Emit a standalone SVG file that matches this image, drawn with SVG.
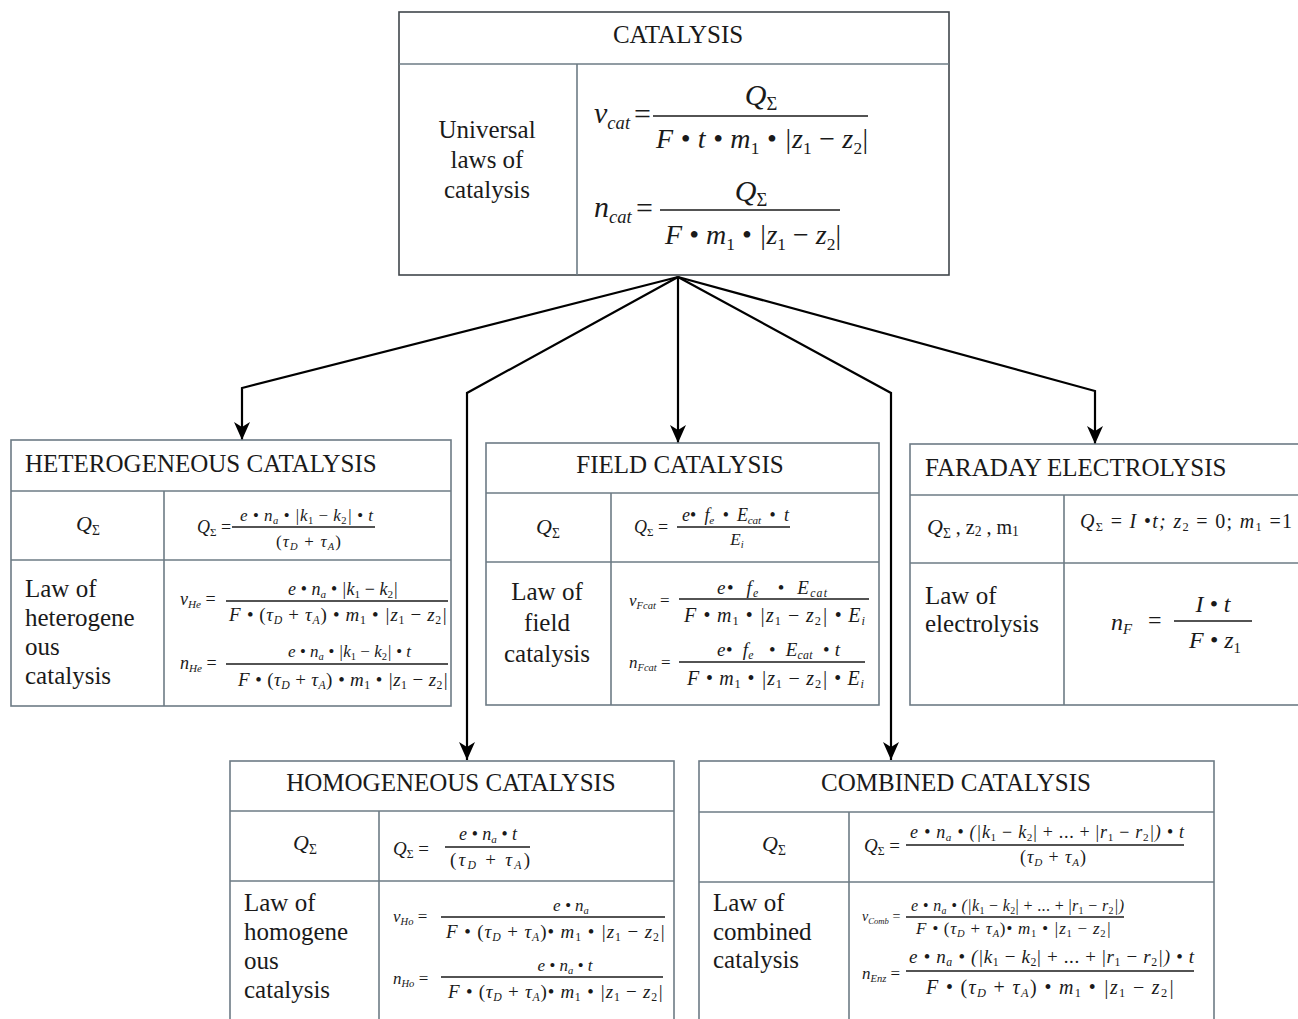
<svg xmlns="http://www.w3.org/2000/svg" width="1298" height="1019" viewBox="0 0 1298 1019">
<defs>
<style>
.box{fill:#fff;stroke:#6d7b85;stroke-width:1.6}
.boxd{fill:#fff;stroke:#40464b;stroke-width:1.6}
.sep{stroke:#6d7b85;stroke-width:1.6}
.tx{font-family:"Liberation Serif","Times New Roman",serif;font-size:25px;fill:#1a1a1a}
.mi{font-family:"Liberation Serif","Times New Roman",serif;font-style:italic;fill:#1a1a1a}
.up{font-style:normal}
.s{font-size:0.62em}
.fl{stroke:#1a1a1a;stroke-width:1.3}
.arr{fill:none;stroke:#000;stroke-width:2.2;marker-end:url(#ah)}
</style>
<marker id="ah" markerUnits="userSpaceOnUse" markerWidth="18" markerHeight="16" viewBox="0 0 18 16" refX="18" refY="8" orient="auto">
<path d="M0,0 L18,8 L0,16 L5,8 Z" fill="#000"/>
</marker>
</defs>
<rect width="1298" height="1019" fill="#fff"/>

<g id="connectors">
<path class="arr" d="M678,277 L242,388 L242,440"/>
<path class="arr" d="M678,277 L467,393 L467,760"/>
<path class="arr" d="M678,277 L678,443"/>
<path class="arr" d="M678,277 L891,393 L891,760"/>
<path class="arr" d="M678,277 L1095,391 L1095,444"/>
</g>

<g id="node-catalysis">
<rect class="boxd" x="399" y="12" width="550" height="263"/>
<line class="sep" x1="399" y1="64" x2="949" y2="64"/>
<line class="sep" x1="577" y1="64" x2="577" y2="275"/>
<text class="tx" x="678" y="43" text-anchor="middle">CATALYSIS</text>
<text class="tx" x="487" y="138" text-anchor="middle">Universal</text>
<text class="tx" x="487" y="168" text-anchor="middle">laws of</text>
<text class="tx" x="487" y="198" text-anchor="middle">catalysis</text>
<text class="mi" x="594" y="123" font-size="30">v<tspan class="s" dy="6">cat</tspan></text>
<text class="mi up" x="634" y="124" font-size="30">=</text>
<text class="mi" x="761" y="105" font-size="30" text-anchor="middle">Q<tspan class="s up" dy="5">Σ</tspan></text>
<line class="fl" x1="653" y1="116" x2="868" y2="116"/>
<text class="mi" x="656" y="148" font-size="28" textLength="212" lengthAdjust="spacing">F • t • m<tspan class="s up" dy="6">1</tspan><tspan dy="-6"> • |z</tspan><tspan class="s up" dy="6">1</tspan><tspan dy="-6" class="up"> − </tspan>z<tspan class="s up" dy="6">2</tspan><tspan dy="-6" class="up">|</tspan></text>
<text class="mi" x="594" y="217" font-size="30">n<tspan class="s" dy="6">cat</tspan></text>
<text class="mi up" x="636" y="218" font-size="30">=</text>
<text class="mi" x="751" y="201" font-size="30" text-anchor="middle">Q<tspan class="s up" dy="5">Σ</tspan></text>
<line class="fl" x1="660" y1="210" x2="840" y2="210"/>
<text class="mi" x="665" y="244" font-size="28" textLength="176" lengthAdjust="spacing">F • m<tspan class="s up" dy="6">1</tspan><tspan dy="-6"> • |z</tspan><tspan class="s up" dy="6">1</tspan><tspan dy="-6" class="up"> − </tspan>z<tspan class="s up" dy="6">2</tspan><tspan dy="-6" class="up">|</tspan></text>
</g>

<g id="node-heterogeneous">
<rect class="box" x="11" y="440" width="440" height="266"/>
<line class="sep" x1="11" y1="491" x2="451" y2="491"/>
<line class="sep" x1="11" y1="560" x2="451" y2="560"/>
<line class="sep" x1="164" y1="491" x2="164" y2="706"/>
<text class="tx" x="25" y="472">HETEROGENEOUS CATALYSIS</text>
<text class="mi" x="88" y="531" font-size="22" text-anchor="middle">Q<tspan class="s up" dy="4">Σ</tspan></text>
<text class="mi" x="197" y="533" font-size="18">Q<tspan class="s up" dy="3">Σ</tspan><tspan class="up" dy="-3"> =</tspan></text>
<text class="mi" x="240" y="521" font-size="17" textLength="133" lengthAdjust="spacing">e • n<tspan class="s" dy="3">a</tspan><tspan dy="-3"> • |k</tspan><tspan class="s up" dy="3">1</tspan><tspan dy="-3" class="up"> − </tspan>k<tspan class="s up" dy="3">2</tspan><tspan dy="-3">| • t</tspan></text>
<line class="fl" x1="232" y1="527" x2="375" y2="527"/>
<text class="mi" x="276" y="547" font-size="17" textLength="65" lengthAdjust="spacing"><tspan class="up">(</tspan>τ<tspan class="s" dy="3">D</tspan><tspan dy="-3" class="up"> + </tspan>τ<tspan class="s" dy="3">A</tspan><tspan dy="-3" class="up">)</tspan></text>
<text class="tx" x="25" y="597">Law of</text>
<text class="tx" x="25" y="626">heterogene</text>
<text class="tx" x="25" y="655">ous</text>
<text class="tx" x="25" y="684">catalysis</text>
<text class="mi" x="180" y="605" font-size="18">v<tspan class="s" dy="3">He</tspan><tspan class="up" dy="-3"> =</tspan></text>
<text class="mi" x="288" y="595" font-size="18" textLength="110" lengthAdjust="spacing">e • n<tspan class="s" dy="3">a</tspan><tspan dy="-3"> • |k</tspan><tspan class="s up" dy="3">1</tspan><tspan dy="-3" class="up"> − </tspan>k<tspan class="s up" dy="3">2</tspan><tspan dy="-3">|</tspan></text>
<line class="fl" x1="226" y1="601" x2="448" y2="601"/>
<text class="mi" x="229" y="621" font-size="19" textLength="218" lengthAdjust="spacing">F • <tspan class="up">(</tspan>τ<tspan class="s" dy="3">D</tspan><tspan dy="-3" class="up"> + </tspan>τ<tspan class="s" dy="3">A</tspan><tspan dy="-3" class="up">)</tspan> • m<tspan class="s up" dy="3">1</tspan><tspan dy="-3"> • |z</tspan><tspan class="s up" dy="3">1</tspan><tspan dy="-3" class="up"> − </tspan>z<tspan class="s up" dy="3">2</tspan><tspan dy="-3">|</tspan></text>
<text class="mi" x="180" y="669" font-size="18">n<tspan class="s" dy="3">He</tspan><tspan class="up" dy="-3"> =</tspan></text>
<text class="mi" x="288" y="657" font-size="17" textLength="123" lengthAdjust="spacing">e • n<tspan class="s" dy="3">a</tspan><tspan dy="-3"> • |k</tspan><tspan class="s up" dy="3">1</tspan><tspan dy="-3" class="up"> − </tspan>k<tspan class="s up" dy="3">2</tspan><tspan dy="-3">| • t</tspan></text>
<line class="fl" x1="226" y1="664" x2="448" y2="664"/>
<text class="mi" x="238" y="686" font-size="19" textLength="210" lengthAdjust="spacing">F • <tspan class="up">(</tspan>τ<tspan class="s" dy="3">D</tspan><tspan dy="-3" class="up"> + </tspan>τ<tspan class="s" dy="3">A</tspan><tspan dy="-3" class="up">)</tspan> • m<tspan class="s up" dy="3">1</tspan><tspan dy="-3"> • |z</tspan><tspan class="s up" dy="3">1</tspan><tspan dy="-3" class="up"> − </tspan>z<tspan class="s up" dy="3">2</tspan><tspan dy="-3">|</tspan></text>
</g>

<g id="node-field">
<rect class="box" x="486" y="443" width="393" height="262"/>
<line class="sep" x1="486" y1="493" x2="879" y2="493"/>
<line class="sep" x1="486" y1="562" x2="879" y2="562"/>
<line class="sep" x1="611" y1="493" x2="611" y2="705"/>
<text class="tx" x="680" y="473" text-anchor="middle">FIELD CATALYSIS</text>
<text class="mi" x="548" y="534" font-size="22" text-anchor="middle">Q<tspan class="s up" dy="4">Σ</tspan></text>
<text class="mi" x="634" y="533" font-size="18">Q<tspan class="s up" dy="3">Σ</tspan><tspan class="up" dy="-3"> =</tspan></text>
<text class="mi" x="682" y="521" font-size="18" textLength="107" lengthAdjust="spacing">e•&#160; f<tspan class="s" dy="3">e</tspan><tspan dy="-3"> &#160;•&#160; E</tspan><tspan class="s" dy="3">cat</tspan><tspan dy="-3"> &#160;•&#160; t</tspan></text>
<line class="fl" x1="677" y1="527" x2="790" y2="527"/>
<text class="mi" x="737" y="545" font-size="17" text-anchor="middle">E<tspan class="s" dy="3">i</tspan></text>
<text class="tx" x="547" y="600" text-anchor="middle">Law of</text>
<text class="tx" x="547" y="631" text-anchor="middle">field</text>
<text class="tx" x="547" y="662" text-anchor="middle">catalysis</text>
<text class="mi" x="629" y="606" font-size="17">v<tspan class="s" dy="3">Fcat</tspan><tspan class="up" dy="-3"> =</tspan></text>
<text class="mi" x="717" y="594" font-size="19" textLength="110" lengthAdjust="spacing">e•&#160; f<tspan class="s" dy="3">e</tspan><tspan dy="-3"> &#160;&#160;• &#160;E</tspan><tspan class="s" dy="3">cat</tspan></text>
<line class="fl" x1="679" y1="599" x2="869" y2="599"/>
<text class="mi" x="684" y="622" font-size="20" textLength="181" lengthAdjust="spacing">F • m<tspan class="s up" dy="3">1</tspan><tspan dy="-3"> • |z</tspan><tspan class="s up" dy="3">1</tspan><tspan dy="-3" class="up"> − </tspan>z<tspan class="s up" dy="3">2</tspan><tspan dy="-3">| • E</tspan><tspan class="s" dy="3">i</tspan></text>
<text class="mi" x="629" y="668" font-size="17">n<tspan class="s" dy="3">Fcat</tspan><tspan class="up" dy="-3"> =</tspan></text>
<text class="mi" x="717" y="656" font-size="19" textLength="123" lengthAdjust="spacing">e•&#160; f<tspan class="s" dy="3">e</tspan><tspan dy="-3"> &#160;&#160;• &#160;E</tspan><tspan class="s" dy="3">cat</tspan><tspan dy="-3"> &#160;• t</tspan></text>
<line class="fl" x1="679" y1="662" x2="865" y2="662"/>
<text class="mi" x="687" y="685" font-size="20" textLength="177" lengthAdjust="spacing">F • m<tspan class="s up" dy="3">1</tspan><tspan dy="-3"> • |z</tspan><tspan class="s up" dy="3">1</tspan><tspan dy="-3" class="up"> − </tspan>z<tspan class="s up" dy="3">2</tspan><tspan dy="-3">| • E</tspan><tspan class="s" dy="3">i</tspan></text>
</g>

<g id="node-faraday">
<rect class="box" x="910" y="444" width="400" height="261"/>
<line class="sep" x1="910" y1="495" x2="1298" y2="495"/>
<line class="sep" x1="910" y1="563" x2="1298" y2="563"/>
<line class="sep" x1="1064" y1="495" x2="1064" y2="705"/>
<text class="tx" x="925" y="476">FARADAY ELECTROLYSIS</text>
<text class="mi" x="927" y="534" font-size="22">Q<tspan class="s up" dy="4">Σ</tspan><tspan class="up" dy="-4" font-size="20"> , z</tspan><tspan class="s up" dy="2" font-size="13">2</tspan><tspan class="up" dy="-2" font-size="20"> , m</tspan><tspan class="s up" dy="2" font-size="13">1</tspan></text>
<text class="mi" x="1080" y="528" font-size="20" textLength="212" lengthAdjust="spacing">Q<tspan class="s up" dy="3">Σ</tspan><tspan class="up" dy="-3"> = </tspan>I •t; z<tspan class="s up" dy="3">2</tspan><tspan class="up" dy="-3"> = 0; </tspan>m<tspan class="s up" dy="3">1</tspan><tspan class="up" dy="-3"> =1</tspan></text>
<text class="tx" x="925" y="604">Law of</text>
<text class="tx" x="925" y="632">electrolysis</text>
<text class="mi" x="1111" y="630" font-size="24">n<tspan class="s" dy="4">F</tspan></text>
<text class="mi up" x="1148" y="628" font-size="24">=</text>
<text class="mi" x="1213" y="612" font-size="24" text-anchor="middle">I • t</text>
<line class="fl" x1="1174" y1="621" x2="1252" y2="621"/>
<text class="mi" x="1215" y="648" font-size="24" text-anchor="middle">F • z<tspan class="s up" dy="5">1</tspan></text>
</g>

<g id="node-homogeneous">
<rect class="box" x="230" y="761" width="444" height="270"/>
<line class="sep" x1="230" y1="811" x2="674" y2="811"/>
<line class="sep" x1="230" y1="881" x2="674" y2="881"/>
<line class="sep" x1="379" y1="811" x2="379" y2="1019"/>
<text class="tx" x="451" y="791" text-anchor="middle">HOMOGENEOUS CATALYSIS</text>
<text class="mi" x="305" y="850" font-size="22" text-anchor="middle">Q<tspan class="s up" dy="4">Σ</tspan></text>
<text class="mi" x="393" y="855" font-size="19">Q<tspan class="s up" dy="3">Σ</tspan><tspan class="up" dy="-3"> =</tspan></text>
<text class="mi" x="488" y="840" font-size="18" text-anchor="middle">e • n<tspan class="s" dy="3">a</tspan><tspan dy="-3"> • t</tspan></text>
<line class="fl" x1="445" y1="847" x2="530" y2="847"/>
<text class="mi" x="450" y="866" font-size="19" textLength="80" lengthAdjust="spacing"><tspan class="up">(</tspan>τ<tspan class="s" dy="3">D</tspan><tspan dy="-3" class="up"> + </tspan>τ<tspan class="s" dy="3">A</tspan><tspan dy="-3" class="up">)</tspan></text>
<text class="tx" x="244" y="911">Law of</text>
<text class="tx" x="244" y="940">homogene</text>
<text class="tx" x="244" y="969">ous</text>
<text class="tx" x="244" y="998">catalysis</text>
<text class="mi" x="393" y="922" font-size="17">v<tspan class="s" dy="3">Ho</tspan><tspan class="up" dy="-3"> =</tspan></text>
<text class="mi" x="571" y="911" font-size="17" text-anchor="middle">e • n<tspan class="s" dy="3">a</tspan></text>
<line class="fl" x1="441" y1="917" x2="665" y2="917"/>
<text class="mi" x="446" y="938" font-size="19" textLength="219" lengthAdjust="spacing">F • <tspan class="up">(</tspan>τ<tspan class="s" dy="3">D</tspan><tspan dy="-3" class="up"> + </tspan>τ<tspan class="s" dy="3">A</tspan><tspan dy="-3" class="up">)</tspan>• m<tspan class="s up" dy="3">1</tspan><tspan dy="-3"> • |z</tspan><tspan class="s up" dy="3">1</tspan><tspan dy="-3" class="up"> − </tspan>z<tspan class="s up" dy="3">2</tspan><tspan dy="-3">|</tspan></text>
<text class="mi" x="393" y="984" font-size="17">n<tspan class="s" dy="3">Ho</tspan><tspan class="up" dy="-3"> =</tspan></text>
<text class="mi" x="565" y="971" font-size="17" text-anchor="middle">e • n<tspan class="s" dy="3">a</tspan><tspan dy="-3"> • t</tspan></text>
<line class="fl" x1="441" y1="977" x2="663" y2="977"/>
<text class="mi" x="448" y="998" font-size="19" textLength="215" lengthAdjust="spacing">F • <tspan class="up">(</tspan>τ<tspan class="s" dy="3">D</tspan><tspan dy="-3" class="up"> + </tspan>τ<tspan class="s" dy="3">A</tspan><tspan dy="-3" class="up">)</tspan>• m<tspan class="s up" dy="3">1</tspan><tspan dy="-3"> • |z</tspan><tspan class="s up" dy="3">1</tspan><tspan dy="-3" class="up"> − </tspan>z<tspan class="s up" dy="3">2</tspan><tspan dy="-3">|</tspan></text>
</g>

<g id="node-combined">
<rect class="box" x="699" y="761" width="515" height="270"/>
<line class="sep" x1="699" y1="812" x2="1214" y2="812"/>
<line class="sep" x1="699" y1="882" x2="1214" y2="882"/>
<line class="sep" x1="849" y1="812" x2="849" y2="1019"/>
<text class="tx" x="956" y="791" text-anchor="middle">COMBINED CATALYSIS</text>
<text class="mi" x="774" y="851" font-size="22" text-anchor="middle">Q<tspan class="s up" dy="4">Σ</tspan></text>
<text class="mi" x="864" y="852" font-size="19">Q<tspan class="s up" dy="3">Σ</tspan><tspan class="up" dy="-3"> =</tspan></text>
<text class="mi" x="910" y="838" font-size="18" textLength="274" lengthAdjust="spacing">e • n<tspan class="s" dy="3">a</tspan><tspan dy="-3"> • (|k</tspan><tspan class="s up" dy="3">1</tspan><tspan dy="-3" class="up"> − </tspan>k<tspan class="s up" dy="3">2</tspan><tspan dy="-3" class="up">| + ... + |</tspan>r<tspan class="s up" dy="3">1</tspan><tspan dy="-3" class="up"> − </tspan>r<tspan class="s up" dy="3">2</tspan><tspan dy="-3">|) • t</tspan></text>
<line class="fl" x1="906" y1="845" x2="1184" y2="845"/>
<text class="mi" x="1020" y="863" font-size="18" textLength="66" lengthAdjust="spacing"><tspan class="up">(</tspan>τ<tspan class="s" dy="3">D</tspan><tspan dy="-3" class="up"> + </tspan>τ<tspan class="s" dy="3">A</tspan><tspan dy="-3" class="up">)</tspan></text>
<text class="tx" x="713" y="911">Law of</text>
<text class="tx" x="713" y="940">combined</text>
<text class="tx" x="713" y="968">catalysis</text>
<text class="mi" x="862" y="921" font-size="14">v<tspan class="s" dy="3">Comb</tspan><tspan class="up" dy="-3"> =</tspan></text>
<text class="mi" x="911" y="911" font-size="16" textLength="213" lengthAdjust="spacing">e • n<tspan class="s" dy="3">a</tspan><tspan dy="-3"> • (|k</tspan><tspan class="s up" dy="3">1</tspan><tspan dy="-3" class="up"> − </tspan>k<tspan class="s up" dy="3">2</tspan><tspan dy="-3" class="up">| + ... + |</tspan>r<tspan class="s up" dy="3">1</tspan><tspan dy="-3" class="up"> − </tspan>r<tspan class="s up" dy="3">2</tspan><tspan dy="-3">|)</tspan></text>
<line class="fl" x1="906" y1="917" x2="1124" y2="917"/>
<text class="mi" x="916" y="934" font-size="17" textLength="195" lengthAdjust="spacing">F • <tspan class="up">(</tspan>τ<tspan class="s" dy="3">D</tspan><tspan dy="-3" class="up"> + </tspan>τ<tspan class="s" dy="3">A</tspan><tspan dy="-3" class="up">)</tspan>• m<tspan class="s up" dy="3">1</tspan><tspan dy="-3"> • |z</tspan><tspan class="s up" dy="3">1</tspan><tspan dy="-3" class="up"> − </tspan>z<tspan class="s up" dy="3">2</tspan><tspan dy="-3">|</tspan></text>
<text class="mi" x="862" y="979" font-size="17">n<tspan class="s" dy="3">Enz</tspan><tspan class="up" dy="-3"> =</tspan></text>
<text class="mi" x="909" y="963" font-size="19" textLength="285" lengthAdjust="spacing">e • n<tspan class="s" dy="3">a</tspan><tspan dy="-3"> • (|k</tspan><tspan class="s up" dy="3">1</tspan><tspan dy="-3" class="up"> − </tspan>k<tspan class="s up" dy="3">2</tspan><tspan dy="-3" class="up">| + ... + |</tspan>r<tspan class="s up" dy="3">1</tspan><tspan dy="-3" class="up"> − </tspan>r<tspan class="s up" dy="3">2</tspan><tspan dy="-3">|) • t</tspan></text>
<line class="fl" x1="906" y1="971" x2="1194" y2="971"/>
<text class="mi" x="926" y="994" font-size="20" textLength="248" lengthAdjust="spacing">F • <tspan class="up">(</tspan>τ<tspan class="s" dy="3">D</tspan><tspan dy="-3" class="up"> + </tspan>τ<tspan class="s" dy="3">A</tspan><tspan dy="-3" class="up">)</tspan> • m<tspan class="s up" dy="3">1</tspan><tspan dy="-3"> • |z</tspan><tspan class="s up" dy="3">1</tspan><tspan dy="-3" class="up"> − </tspan>z<tspan class="s up" dy="3">2</tspan><tspan dy="-3">|</tspan></text>
</g>
</svg>
